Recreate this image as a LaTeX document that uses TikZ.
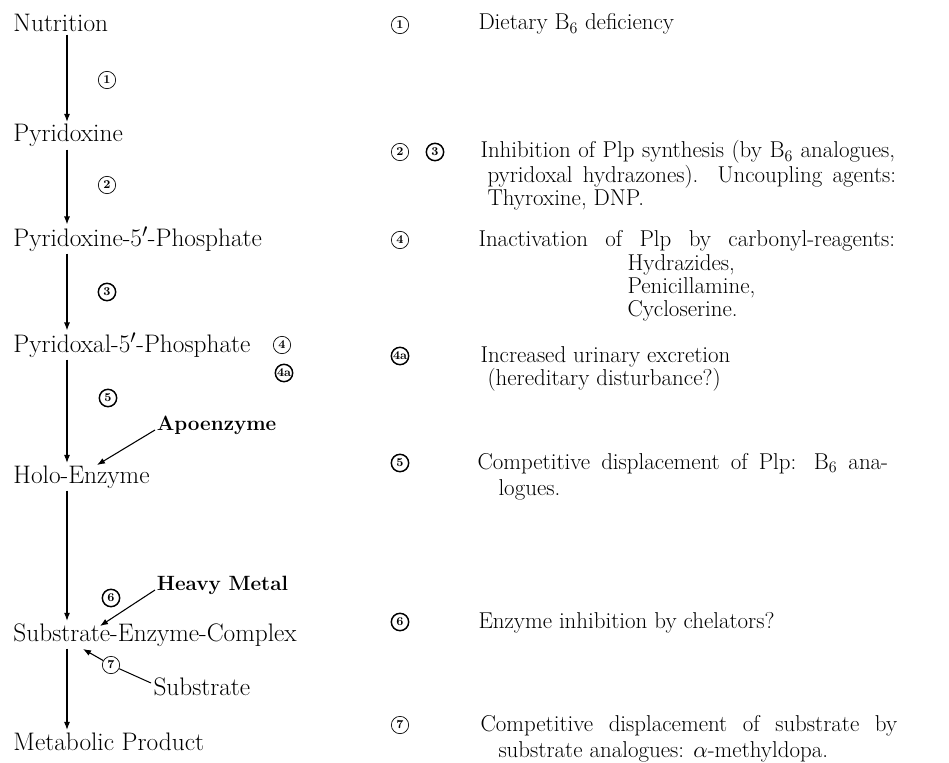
\documentclass[tikz,border=0pt]{standalone}
\usetikzlibrary{arrows.meta}

\tikzset{every picture/.style={line width=0.75pt}}
\tikzset{
  stage/.style={anchor=base west, inner sep=1.5pt, font=\fontsize{19}{22}\selectfont},
  source/.style={anchor=base west, inner sep=1pt, font=\fontsize{15.5}{18}\selectfont\bfseries},
  note/.style={anchor=base west, inner sep=0pt, font=\fontsize{17.2}{20}\selectfont},
  numthin/.style={circle, draw, line width=0.5pt, inner sep=0pt, minimum size=13pt, font=\fontsize{9}{9}\selectfont\bfseries},
  numthick/.style={numthin, line width=1.1pt},
  flow/.style={-{Latex[length=6pt,width=4.5pt]}, line width=0.8pt},
}

\begin{document}
\begin{tikzpicture}[x=0.75pt,y=0.75pt,yscale=-1,xscale=1]
	\useasboundingbox (0,0) rectangle (949,763);
	\coordinate (ax) at (67,0);

	% Pathway
	\node[stage] (nutr) at (11,32) {Nutrition};
	\node[stage] (pyr) at (11,142) {Pyridoxine};
	\node[stage] (pyrp) at (11,246) {Pyridoxine-5$'$-Phosphate};
	\node[stage] (plp) at (11,352) {Pyridoxal-5$'$-Phosphate};
	\node[stage] (holo) at (11,483) {Holo-Enzyme};
	\node[stage] (sec) at (11,641) {Substrate-Enzyme-Complex};
	\node[stage] (prod) at (11,750) {Metabolic Product};

	\draw[flow] (nutr.south -| ax) -- (pyr.north -| ax);
	\draw[flow] (pyr.south -| ax) -- (pyrp.north -| ax);
	\draw[flow] (pyrp.south -| ax) -- (plp.north -| ax);
	\draw[flow] (plp.south -| ax) -- (holo.north -| ax);
	\draw[flow] (holo.south -| ax) -- (sec.north -| ax);
	\draw[flow] (sec.south -| ax) -- (prod.north -| ax);

	% Side inputs
	\node[source] (apo) at (155,430) {Apoenzyme};
	\node[source] (heavy) at (155,590) {Heavy Metal};
	\node[stage] (subs) at (151,695) {Substrate};
	\coordinate (holoin) at (97,465);
	\coordinate (secin) at (100,626);
	\coordinate (secsub) at (83,649);

	% Marks on the pathway
	\node[numthin] (c1) at (107,80) {1};
	\node[numthin] (c2) at (107,185) {2};
	\node[numthick] (c3) at (107,292) {3};
	\node[numthin] (c4) at (282,345) {4};
	\node[numthick] (c4a) at (284,373) {4a};
	\node[numthick] (c5) at (108,398) {5};
	\node[numthick] (c6) at (111,598) {6};
	\node[numthin] (c7) at (111,665) {7};

	\draw[flow] (apo.base west) -- (holoin);
	\draw[flow] (heavy.base west) -- (secin);
	\draw ([yshift=-9pt]subs.base west) -- (c7);
	\draw[flow] (c7) -- (secsub);

	% Legend
	\node[numthin] (r1) at (400,25) {1};
	\node[numthin] (r2) at (400,152) {2};
	\node[numthick] (r3) at (435,152) {3};
	\node[numthin] (r4) at (400,240) {4};
	\node[numthick] (r4a) at (400,356) {4a};
	\node[numthick] (r5) at (400,463) {5};
	\node[numthick] (r6) at (400,622) {6};
	\node[numthin] (r7) at (400,725) {7};

	\node[note] (n1) at (478,30) {Dietary B$_6$ deficiency};
	\node[note] (n3a) at (480,158) {\makebox[311pt][s]{Inhibition of Plp synthesis (by B$_6$ analogues,}};
	\node[note] (n3b) at (487,182) {\makebox[306.5pt][s]{pyridoxal hydrazones). Uncoupling agents:}};
	\node[note] (n3c) at (487,205) {Thyroxine, DNP.};
	\node[note] (n4a) at (478,246) {\makebox[312.5pt][s]{Inactivation of Plp by carbonyl-reagents:}};
	\node[note] (n4b) at (627,270) {Hydrazides,};
	\node[note] (n4c) at (627,293) {Penicillamine,};
	\node[note] (n4d) at (627,316) {Cycloserine.};
	\node[note] (n4xa) at (480,362) {Increased urinary excretion};
	\node[note] (n4xb) at (487,385) {(hereditary disturbance?)};
	\node[note] (n5a) at (477,469) {\makebox[308pt][s]{Competitive displacement of Plp: B$_6$ ana-}};
	\node[note] (n5b) at (498,495) {logues.};
	\node[note] (n6) at (478,628) {Enzyme inhibition by chelators?};
	\node[note] (n7a) at (480,731) {\makebox[312.5pt][s]{Competitive displacement of substrate by}};
	\node[note] (n7b) at (498,757) {substrate analogues: $\alpha$-methyldopa.};

\end{tikzpicture}
\end{document}
